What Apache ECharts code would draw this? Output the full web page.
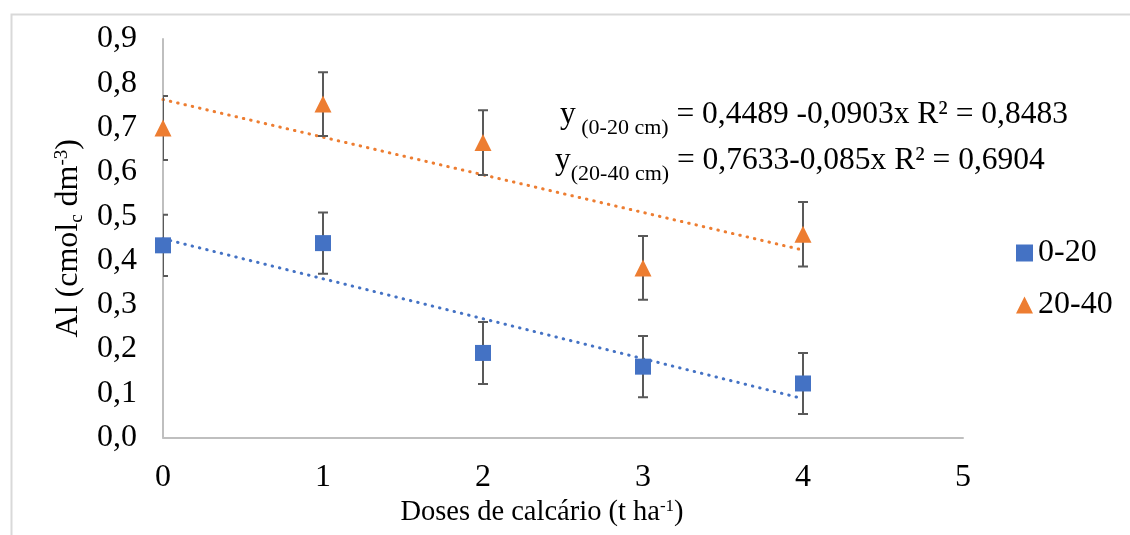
<!DOCTYPE html>
<html><head><meta charset="utf-8">
<script src="https://cdn.jsdelivr.net/npm/echarts@6/dist/echarts.min.js"></script>
<style>html,body{margin:0;padding:0;background:#fff}#c{width:1130px;height:535px}</style>
</head><body><div id="c"></div>
<script>
// ---- data ----
const doses = [0, 1, 2, 3, 4];
const al0_20 = [0.434, 0.439, 0.191, 0.160, 0.122];
const err0_20 = [0.069, 0.069, 0.070, 0.069, 0.069];
const al20_40 = [0.699, 0.753, 0.666, 0.383, 0.459];
const err20_40 = [0.072, 0.072, 0.073, 0.072, 0.073];
const seriesNames = ['0-20', '20-40'];
const trendIntercept = [0.4489, 0.7633];
const trendSlope = [-0.0903, -0.085];
const trendX = [0, 4];
const eqLabels = [
  ['y', ' (0-20 cm)', ' = 0,4489 -0,0903x R² = 0,8483'],
  ['y', '(20-40 cm)', ' = 0,7633-0,085x R² = 0,6904']
];
const xAxisMin = 0, xAxisMax = 5, xAxisStep = 1;
const yAxisMin = 0, yAxisMax = 0.9, yAxisStep = 0.1;

// ---- build ----
const FONT = 'Liberation Serif';
const BLUE = '#4472C4', ORANGE = '#ED7D31', ERR = '#595959';

function pts(ys) { return doses.map((x, i) => [x, ys[i]]); }
function errs(ys, es) { return doses.map((x, i) => [x, ys[i] - es[i], ys[i] + es[i]]); }
function trend(k) { return trendX.map(x => [x, trendIntercept[k] + trendSlope[k] * x]); }

function errRender(params, api) {
  const x = api.value(0), lo = api.value(1), hi = api.value(2);
  const a = api.coord([x, lo]), b = api.coord([x, hi]);
  const hw = 5;
  const st = { stroke: ERR, lineWidth: 2 };
  return { type: 'group', children: [
    { type: 'line', shape: { x1: a[0], y1: a[1], x2: b[0], y2: b[1] }, style: st },
    { type: 'line', shape: { x1: a[0] - hw, y1: a[1], x2: a[0] + hw, y2: a[1] }, style: st },
    { type: 'line', shape: { x1: b[0] - hw, y1: b[1], x2: b[0] + hw, y2: b[1] }, style: st }
  ]};
}

const richMain = { m: { fontSize: 31.5, fontFamily: FONT, color: '#000', verticalAlign: 'top', lineHeight: 36 },
                   s: { fontSize: 22, fontFamily: FONT, color: '#000', verticalAlign: 'top', lineHeight: 22, padding: [18, 0, 0, 0] } };

function eqText(k) { const e = eqLabels[k]; return '{m|' + e[0] + '}{s|' + e[1] + '}{m|' + e[2] + '}'; }

const chart = echarts.init(document.getElementById('c'));
chart.setOption({
  animation: false,
  backgroundColor: '#fff',
  grid: { left: 163, right: 167, top: 39, bottom: 97.5, containLabel: false },
  xAxis: {
    type: 'value', min: xAxisMin, max: xAxisMax, interval: xAxisStep,
    axisLine: { show: true, lineStyle: { color: '#BFBFBF', width: 2 } },
    axisTick: { show: false }, splitLine: { show: false },
    axisLabel: { fontSize: 32, fontFamily: FONT, color: '#000', margin: 24 },
    name: '{m|Doses de calcário (t ha}{p|-1}{m|)}',
    nameLocation: 'middle', nameGap: 57,
    nameTextStyle: { padding: [0, 42, 0, 0], rich: {
      m: { fontSize: 28.5, fontFamily: FONT, color: '#000', verticalAlign: 'top', lineHeight: 32 },
      p: { fontSize: 17, fontFamily: FONT, color: '#000', verticalAlign: 'top', lineHeight: 17 } } }
  },
  yAxis: {
    type: 'value', min: yAxisMin, max: yAxisMax, interval: yAxisStep,
    axisLine: { show: true, lineStyle: { color: '#BFBFBF', width: 2 } },
    axisTick: { show: false }, splitLine: { show: false },
    axisLabel: { fontSize: 32, fontFamily: FONT, color: '#000', margin: 26,
      formatter: v => v.toFixed(1).replace('.', ',') },
    name: '{m|Al (cmol}{s|c}{m| dm}{p|-3}{m|)}',
    nameLocation: 'middle', nameGap: 69, nameRotate: 90,
    nameTextStyle: { rich: {
      m: { fontSize: 32, fontFamily: FONT, color: '#000', verticalAlign: 'top', lineHeight: 34 },
      s: { fontSize: 19, fontFamily: FONT, color: '#000', verticalAlign: 'top', lineHeight: 19, padding: [15, 0, 0, 0] },
      p: { fontSize: 19, fontFamily: FONT, color: '#000', verticalAlign: 'top', lineHeight: 19 } } }
  },
  legend: {
    orient: 'vertical', left: 1011, top: 231, itemGap: 18,
    itemWidth: 17, itemHeight: 17,
    data: seriesNames,
    textStyle: { fontSize: 32, fontFamily: FONT, color: '#000', lineHeight: 34 }
  },
  graphic: [
    { type: 'rect', left: 9, top: 12, silent: true, z: -10,
      shape: { width: 1200, height: 600 }, style: { fill: 'none', stroke: '#D9D9D9', lineWidth: 2 } },
    { type: 'text', left: 560, top: 99, z: 100, style: { text: eqText(0), rich: richMain } },
    { type: 'text', left: 555, top: 145, z: 100, style: { text: eqText(1), rich: richMain } }
  ],
  series: [
    { name: 'trend0', type: 'line', data: trend(0), showSymbol: false, z: 3, silent: true,
      lineStyle: { color: BLUE, width: 3, type: [0.5, 7], cap: 'round' } },
    { name: 'trend1', type: 'line', data: trend(1), showSymbol: false, z: 3, silent: true,
      lineStyle: { color: ORANGE, width: 3, type: [0.5, 7], cap: 'round' } },
    { name: 'err0', type: 'custom', renderItem: errRender, data: errs(al0_20, err0_20), z: 4, clip: true },
    { name: 'err1', type: 'custom', renderItem: errRender, data: errs(al20_40, err20_40), z: 4, clip: true },
    { name: seriesNames[0], type: 'scatter', data: pts(al0_20), symbol: 'rect', symbolSize: 16, z: 5,
      itemStyle: { color: BLUE, opacity: 1 } },
    { name: seriesNames[1], type: 'scatter', data: pts(al20_40), symbol: 'triangle', symbolSize: 17, z: 5,
      itemStyle: { color: ORANGE, opacity: 1 } }
  ]
});
</script>
</body></html>
